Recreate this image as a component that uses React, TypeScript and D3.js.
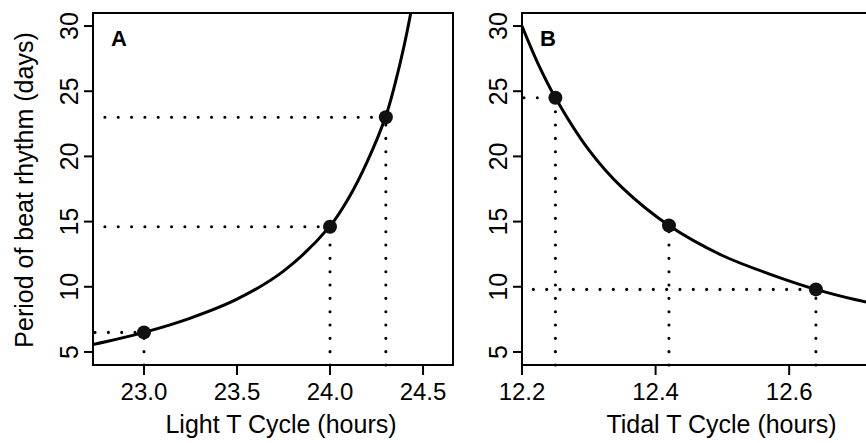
import * as React from "react";
import * as d3 from "d3";

// panel A: light T cycle
const lightT = [23.0, 24.0, 24.3];
const lightBeat = [6.5, 14.6, 23.0];
const lightGuideFrom = [22.737, 22.79, 22.79];
const lightCurveT = [22.7, 22.8, 23.0, 23.25, 23.5, 23.75, 24.0, 24.1, 24.2, 24.3, 24.35, 24.4, 24.45];
const lightCurveBeat = [5.5, 5.8, 6.5, 7.6, 9.05, 11.2, 14.65, 16.8, 19.6, 23.1, 25.6, 28.6, 32.2];
const lightTicks = [23.0, 23.5, 24.0, 24.5];

// panel B: tidal T cycle
const tidalT = [12.25, 12.42, 12.64];
const tidalBeat = [24.5, 14.7, 9.8];
const tidalGuideFrom = [12.203, null, 12.217];
const tidalCurveT = [12.2, 12.225, 12.25, 12.3, 12.35, 12.42, 12.5, 12.575, 12.64, 12.7, 12.78];
const tidalCurveBeat = [30.0, 27.0, 24.5, 20.5, 17.6, 14.7, 12.4, 10.9, 9.8, 9.0, 8.15];
const tidalTicks = [12.2, 12.4, 12.6];

const beatTicks = [5, 10, 15, 20, 25, 30];

const FONT = "'Liberation Sans', Arial, Helvetica, sans-serif";
const TOP = 13;
const BOTTOM = 365;

type PanelProps = {
  id: string;
  letter: string;
  left: number;
  right: number;
  xDomain: [number, number];
  xTicks: number[];
  xFormat: (v: number) => string;
  xTitle: string;
  ptsT: number[];
  ptsBeat: number[];
  guideFrom: (number | null)[];
  curveT: number[];
  curveBeat: number[];
};

const Panel = (p: PanelProps) => {
  const x = d3.scaleLinear().domain(p.xDomain).range([p.left, p.right]);
  const y = d3.scaleLinear().domain([4, 31]).range([BOTTOM, TOP]);
  const line = d3
    .line<number>()
    .x((d, i) => x(p.curveT[i]))
    .y((d) => y(d))
    .curve(d3.curveCatmullRom);
  const dots = { stroke: "#000", strokeWidth: 3.1, strokeDasharray: "0 13.33", strokeLinecap: "round" as const };

  return (
    <g>
      <clipPath id={"clip" + p.id}>
        <rect x={p.left} y={TOP} width={p.right - p.left} height={BOTTOM - TOP} />
      </clipPath>

      {/* guide lines */}
      {p.ptsT.map((t, i) => (
        <g key={"g" + i}>
          <line x1={x(t)} x2={x(t)} y1={y(4)} y2={y(p.ptsBeat[i])} {...dots} />
          {p.guideFrom[i] != null && (
            <line x1={x(p.guideFrom[i] as number)} x2={x(t)} y1={y(p.ptsBeat[i])} y2={y(p.ptsBeat[i])} {...dots} />
          )}
        </g>
      ))}

      <path d={line(p.curveBeat) || ""} fill="none" stroke="#000" strokeWidth={3} clipPath={`url(#clip${p.id})`} />

      {p.ptsT.map((t, i) => (
        <circle key={"p" + i} cx={x(t)} cy={y(p.ptsBeat[i])} r={7} fill="#111" />
      ))}

      <rect x={p.left} y={TOP} width={p.right - p.left} height={BOTTOM - TOP} fill="none" stroke="#000" strokeWidth={2} />

      {/* y axis */}
      {beatTicks.map((v) => (
        <g key={"y" + v}>
          <line x1={p.left - 9} x2={p.left} y1={y(v)} y2={y(v)} stroke="#000" strokeWidth={2} />
          <text
            transform={`translate(${p.left - 15},${y(v)}) rotate(-90)`}
            textAnchor="middle"
            fontFamily={FONT}
            fontSize={25}
          >
            {v}
          </text>
        </g>
      ))}

      {/* x axis */}
      {p.xTicks.map((v) => (
        <g key={"x" + v}>
          <line x1={x(v)} x2={x(v)} y1={BOTTOM} y2={BOTTOM + 10} stroke="#000" strokeWidth={2} />
          <text x={x(v)} y={400} textAnchor="middle" fontFamily={FONT} fontSize={24}>
            {p.xFormat(v)}
          </text>
        </g>
      ))}
      <text
        x={(p.left + p.right) / 2 + 8}
        y={433}
        textAnchor="middle"
        fontFamily={FONT}
        fontSize={25}
      >
        {p.xTitle}
      </text>

      <text x={p.left + 18} y={46} fontFamily={FONT} fontSize={22} fontWeight="bold">
        {p.letter}
      </text>
    </g>
  );
};

export default function App() {
  const fmt1 = d3.format(".1f");
  return (
    <svg
      width={866}
      height={443}
      style={{ position: "absolute", left: 0, top: 0, background: "#fff", overflow: "hidden" }}
    >
      <text
        transform={`translate(33,${(TOP + BOTTOM) / 2 + 1}) rotate(-90)`}
        textAnchor="middle"
        fontFamily={FONT}
        fontSize={25}
      >
        Period of beat rhythm (days)
      </text>
      <Panel
        id="A"
        letter="A"
        left={93}
        right={453}
        xDomain={[22.726, 24.661]}
        xTicks={lightTicks}
        xFormat={fmt1}
        xTitle="Light T Cycle (hours)"
        ptsT={lightT}
        ptsBeat={lightBeat}
        guideFrom={lightGuideFrom}
        curveT={lightCurveT}
        curveBeat={lightCurveBeat}
      />
      <Panel
        id="B"
        letter="B"
        left={522}
        right={905}
        xDomain={[12.2, 12.7734]}
        xTicks={tidalTicks}
        xFormat={fmt1}
        xTitle="Tidal T Cycle (hours)"
        ptsT={tidalT}
        ptsBeat={tidalBeat}
        guideFrom={tidalGuideFrom}
        curveT={tidalCurveT}
        curveBeat={tidalCurveBeat}
      />
    </svg>
  );
}
